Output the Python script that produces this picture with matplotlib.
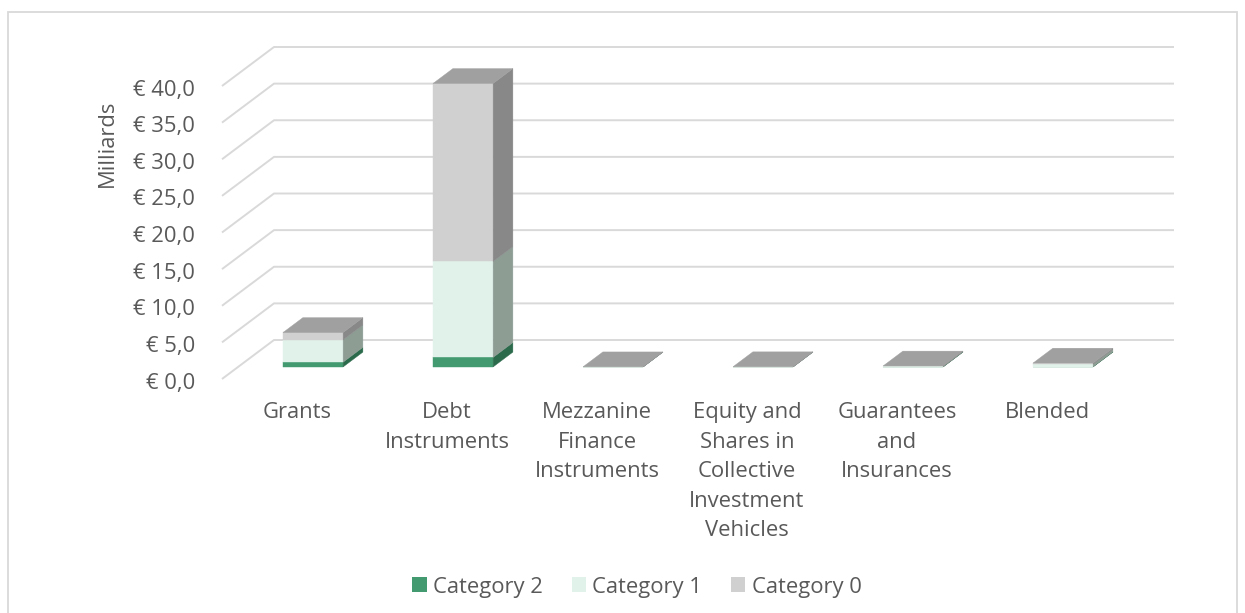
import matplotlib
matplotlib.use("Agg")
import matplotlib.pyplot as plt
from matplotlib.patches import Polygon, Rectangle, Patch

# ---------------- data ----------------
categories = ["Grants", "Debt\nInstruments", "Mezzanine\nFinance\nInstruments",
              "Equity and\nShares in\nCollective\nInvestment\nVehicles",
              "Guarantees\nand\nInsurances", "Blended"]
series_names = ["Category 2", "Category 1", "Category 0"]
cat2 = [0.65, 1.30, 0.00, 0.00, 0.01, 0.03]
cat1 = [3.05, 13.10, 0.01, 0.02, 0.08, 0.35]
cat0 = [1.00, 24.30, 0.01, 0.01, 0.04, 0.15]
y_ticks = [0, 5, 10, 15, 20, 25, 30, 35, 40]
y_label = "Milliards"

# ---------------- style ----------------
front_cols = ["#439A70", "#E1F2EA", "#D0D0D0"]
side_cols = ["#2B6B4C", "#8D9D94", "#888888"]
top_col = "#A0A0A0"
grid_col = "#D9D9D9"
text_col = "#595959"
FONT = ["Open Sans", "DejaVu Sans"]
FS = 15.8

W, H = 1245, 613
PX_CAT = 150.0          # pixels per category
PX_VAL = 293.0 / 40.0   # pixels per value unit
X0_PX, Y0_PX = 222.0, 379.0   # front-left origin (pixels from left/top)
DX = 52.0 / PX_CAT      # depth offset in category units
DY = 39.0 / PX_VAL      # depth offset in value units
BAR_W = 0.40
F0, FD = 0.31, 0.38     # bar depth start / depth thickness (fraction of floor)

plt.rcParams["font.family"] = FONT
fig = plt.figure(figsize=(W / 100, H / 100), dpi=100)
ax = fig.add_axes([0, 0, 1, 1])
ax.set_xlim(-X0_PX / PX_CAT, (W - X0_PX) / PX_CAT)
ax.set_ylim(-(H - Y0_PX) / PX_VAL, Y0_PX / PX_VAL)
ax.axis("off")

# figure border
fig.patches.append(Rectangle((8 / W, -0.05), (W - 16) / W, (H - 12) / H + 0.05,
                             transform=fig.transFigure, fill=False,
                             edgecolor=grid_col, lw=1.3))

n = len(categories)
# gridlines: side wall diagonal + back wall horizontal
for v in y_ticks:
    ax.plot([0, DX, n + DX], [v, v + DY, v + DY], color=grid_col, lw=1.4,
            solid_capstyle="butt", zorder=1)
    ax.text(-0.18, v - 0.55, ("€ %.1f" % v).replace(".", ","), ha="right", va="center",
            fontsize=FS, color=text_col)

ax.text(-0.767, 32.2, y_label, rotation=90, ha="center", va="center",
        fontsize=FS, color=text_col)

# bars
off = F0 * DY  # floor height at the bar's front depth
ddx, ddy = FD * DX, FD * DY
for i in range(n):
    vals = [cat2[i], cat1[i], cat0[i]]
    x_left = i + 0.5 - BAR_W / 2 + F0 * DX
    x_right = x_left + BAR_W
    bottom = 0.0
    for k, v in enumerate(vals):
        b = off + bottom
        t = off + bottom + v
        ax.add_patch(Rectangle((x_left, b), BAR_W, v, facecolor=front_cols[k],
                               edgecolor=front_cols[k], lw=0.3, zorder=3))
        ax.add_patch(Polygon([(x_right, b), (x_right + ddx, b + ddy),
                              (x_right + ddx, t + ddy), (x_right, t)],
                             closed=True, facecolor=side_cols[k],
                             edgecolor=side_cols[k], lw=0.3, zorder=3))
        bottom += v
    t = off + bottom
    ax.add_patch(Polygon([(x_left, t), (x_right, t), (x_right + ddx, t + ddy),
                          (x_left + ddx, t + ddy)], closed=True,
                         facecolor=top_col, edgecolor=top_col, lw=0.3, zorder=4))

# category labels
for i, lab in enumerate(categories):
    ax.text(i + 0.5, -3.15, lab, ha="center", va="top", fontsize=FS,
            color=text_col, linespacing=1.53, multialignment="center")

# legend
handles = [Patch(facecolor=c, edgecolor="none") for c in front_cols]
fig.legend(handles, series_names, loc="center", bbox_to_anchor=(637 / W, (H - 587) / H),
           ncol=3, frameon=False, fontsize=FS, handlelength=0.65, handleheight=0.65,
           handletextpad=0.3, columnspacing=1.3, labelcolor=text_col)

fig.savefig("out.png", dpi=100, facecolor="white")
